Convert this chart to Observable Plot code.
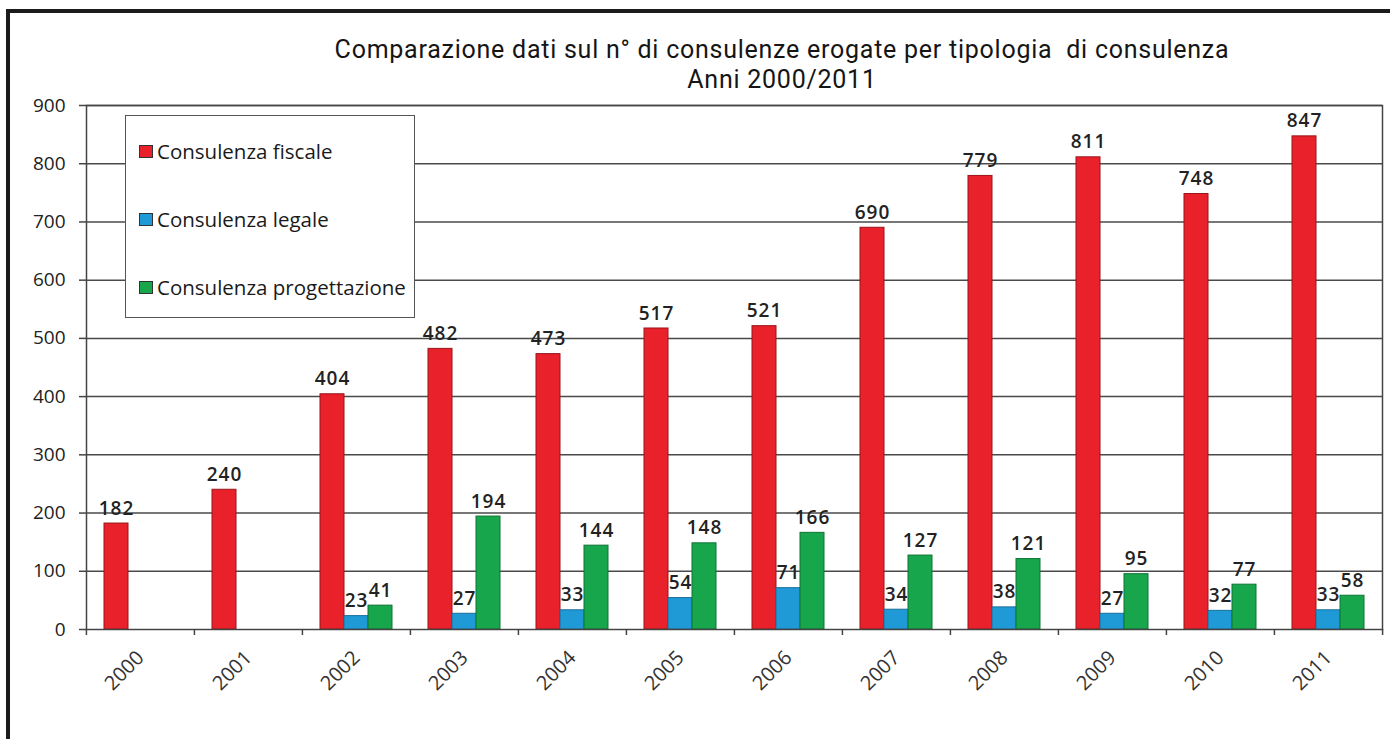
<!DOCTYPE html>
<html><head><meta charset="utf-8">
<script src="https://cdn.jsdelivr.net/npm/d3@7"></script>
<script src="https://cdn.jsdelivr.net/npm/@observablehq/plot@0.6"></script>
<style>
html,body{margin:0;padding:0;background:#fff;}
#wrap{position:relative;width:1390px;height:739px;overflow:hidden;background:#fff;}
#border{position:absolute;left:6px;top:9px;width:1420px;height:800px;border-top:4px solid #1b1b1b;border-left:4px solid #1b1b1b;box-sizing:border-box;}
#title{position:absolute;left:0;top:35px;width:1564px;text-align:center;white-space:nowrap;font-family:Roboto,"Open Sans",sans-serif;font-size:25px;letter-spacing:0.75px;line-height:30px;color:#151515;}
#chart{position:absolute;left:0;top:0;}
#legend{position:absolute;left:125px;top:115px;width:290px;height:203px;box-sizing:border-box;border:1.5px solid #555;background:#fff;font-family:"Open Sans",sans-serif;font-size:20.5px;color:#1a1a1a;}
#legend .item{position:absolute;left:13px;display:flex;align-items:center;height:26px;white-space:nowrap;}
#legend .sw{display:inline-block;width:14px;height:13px;border:1px solid #333;margin-right:4px;box-sizing:border-box;}
</style>
</head><body>
<div id="wrap">
  <div id="border"></div>
  <div id="chart"></div>
  <div id="title"></div>
  <div id="legend"></div>
</div>
<script>
const titleLines = ["Comparazione dati sul n° di consulenze erogate per tipologia  di consulenza", "Anni 2000/2011"];
const years = ["2000", "2001", "2002", "2003", "2004", "2005", "2006", "2007", "2008", "2009", "2010", "2011"];
const series = ["Consulenza fiscale", "Consulenza legale", "Consulenza progettazione"];
const fiscale = [182, 240, 404, 482, 473, 517, 521, 690, 779, 811, 748, 847];
const legale = [null, null, 23, 27, 33, 54, 71, 34, 38, 27, 32, 33];
const progettazione = [null, null, 41, 194, 144, 148, 166, 127, 121, 95, 77, 58];
const yTicks = [0, 100, 200, 300, 400, 500, 600, 700, 800, 900];
const fills = ["#e8212b", "#1f9ad6", "#17a64b"];
const strokes = ["#9a1419", "#1a6e9b", "#0f7334"];

const valuesBySeries = [fiscale, legale, progettazione];
const rowsFor = (k) => years.map((yr, i) => ({year: yr, serie: series[k], value: valuesBySeries[k][i]})).filter(d => d.value != null);
const rows = series.map((_, k) => rowsFor(k));

const W = 1390, H = 739, mL = 85, mR = 7, mT = 105, mB = 110;
const band = (W - mL - mR) / years.length;

const marks = [
  Plot.ruleY(yTicks.filter(t => t > 0), {stroke: "#4a4a4a", strokeWidth: 1.5}),
];
rows.forEach((r, k) => {
  marks.push(Plot.barY(r, {fx: "year", x: "serie", y: "value", fill: fills[k], stroke: strokes[k], strokeWidth: 1}));
});
rows.forEach((r, k) => {
  marks.push(Plot.text(r, {fx: "year", x: "serie", y: "value", text: d => String(d.value), dy: -15, fontSize: 19, fontWeight: 600, fill: "#222", fontFamily: "'Open Sans', sans-serif"}));
});
marks.push(
  Plot.frame({facet: "super", stroke: "#444", strokeWidth: 1.5}),
  Plot.axisY({ticks: yTicks, tickSize: 7, tickPadding: 14, fontSize: 19, label: null, stroke: "#444", strokeWidth: 1.5, fill: "#222", fontFamily: "'Open Sans', sans-serif"}),
  Plot.axisFx({anchor: "bottom", tickSize: 0, tickPadding: 25, tickRotate: -45, fontSize: 20, label: null, fill: "#333", fontFamily: "'Open Sans', sans-serif", tickFormat: d => d}),
  Plot.axisFx({anchor: "bottom", tickSize: 6, tickFormat: () => "", dx: -band / 2, label: null, stroke: "#444", strokeWidth: 1.5}),
  Plot.axisFx({anchor: "bottom", ticks: [years[years.length - 1]], tickSize: 6, tickFormat: () => "", dx: band / 2, label: null, stroke: "#444", strokeWidth: 1.5})
);

const chart = Plot.plot({
  width: W, height: H,
  marginTop: mT, marginBottom: mB, marginLeft: mL, marginRight: mR,
  style: {background: "transparent", fontFamily: "'Open Sans', sans-serif"},
  fx: {domain: years, padding: 0, label: null},
  x: {domain: series, paddingInner: 0, paddingOuter: 0.72, axis: null},
  y: {domain: [0, 900], label: null},
  marks
});
document.getElementById("chart").appendChild(chart);
d3.select(chart).selectAll('g[aria-label="text"] text').style("letter-spacing", "1px");

document.getElementById("title").innerHTML = titleLines.map(t => `<div>${t.replace(/  /g, " &nbsp;")}</div>`).join("");
const lg = document.getElementById("legend");
const legendTops = [22, 90, 158];
series.forEach((s, k) => {
  const it = document.createElement("div");
  it.className = "item";
  it.style.top = legendTops[k] + "px";
  it.innerHTML = `<span class="sw" style="background:${fills[k]}"></span><span>${s}</span>`;
  lg.appendChild(it);
});
</script>
</body></html>
